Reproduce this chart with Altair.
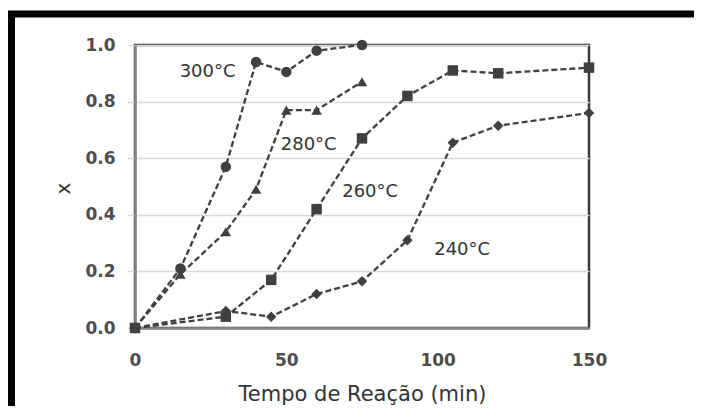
import altair as alt
import pandas as pd

# Reaction time (min) and conversion X for each temperature
t300 = [0, 15, 30, 40, 50, 60, 75]
x300 = [0, 0.21, 0.57, 0.94, 0.905, 0.98, 1.0]
t280 = [0, 15, 30, 40, 50, 60, 75]
x280 = [0, 0.19, 0.34, 0.49, 0.77, 0.77, 0.87]
t240 = [0, 30, 45, 60, 75, 90, 105, 120, 150]
x240 = [0, 0.06, 0.04, 0.12, 0.165, 0.31, 0.655, 0.715, 0.76]
t260 = [0, 30, 45, 60, 75, 90, 105, 120, 150]
x260 = [0, 0.04, 0.17, 0.42, 0.67, 0.82, 0.91, 0.90, 0.92]

series_names = ["300", "280", "240", "260"]
series_shapes = ["circle", "triangle-up", "diamond", "square"]
series_sizes = [110, 110, 70, 144]

label_text = ["300°C", "280°C", "260°C", "240°C"]
label_t = [24, 57.4, 77.7, 108.1]
label_x = [0.906, 0.647, 0.479, 0.276]

x_ticks = [0, 50, 100, 150]
y_ticks = [0, 0.2, 0.4, 0.6, 0.8, 1.0]

rows = []
for name, ts, xs in zip(series_names, [t300, t280, t240, t260], [x300, x280, x240, x260]):
    for i, (t, x) in enumerate(zip(ts, xs)):
        rows.append({"serie": name, "t": t, "X": x, "i": i})
df = pd.DataFrame(rows)
labels_df = pd.DataFrame({"label": label_text, "t": label_t, "X": label_x})

GRAY = "#404040"

x_enc = alt.X("t:Q", scale=alt.Scale(domain=[0, 150], nice=False),
              axis=alt.Axis(values=x_ticks, title="Tempo de Reação (min)", grid=False,
                            ticks=False, tickSize=0, labelPadding=24, labelFlush=False,
                            titleY=72, titleBaseline="alphabetic",
                            domainColor="#858585", domainWidth=2.5))
y_enc = alt.Y("X:Q", scale=alt.Scale(domain=[0, 1], nice=False),
              axis=alt.Axis(values=y_ticks, format=".1f", title="x",
                            grid=True, gridColor="#d9d9d9", gridWidth=1.5,
                            ticks=True, tickSize=8, tickColor="#d9d9d9", tickWidth=1.5,
                            labelPadding=12, domainColor="#858585", domainWidth=2.5,
                            titleX=-62, titleY=143, titleBaseline="bottom", titleAngle=270,
                            titleFont="DejaVu Sans", titleFontSize=20, titleFontWeight="normal",
                            titleColor="#333333"))

shape_scale = alt.Scale(domain=series_names, range=series_shapes)
size_scale = alt.Scale(domain=series_names, range=series_sizes)

lines = alt.Chart(df).mark_line(color=GRAY, strokeWidth=2.3, strokeDash=[6, 3]).encode(
    x=x_enc, y=y_enc, detail="serie:N", order="i:Q")

points = alt.Chart(df).mark_point(filled=True, color=GRAY, opacity=1).encode(
    x="t:Q", y="X:Q",
    shape=alt.Shape("serie:N", scale=shape_scale, legend=None),
    size=alt.Size("serie:N", scale=size_scale, legend=None))

texts = alt.Chart(labels_df).mark_text(font="DejaVu Sans", fontSize=18, color="#333333",
                                       align="center", baseline="middle").encode(
    x="t:Q", y="X:Q", text="label:N")

frame = alt.Chart(pd.DataFrame({"a": [0]})).mark_rect(
    fillOpacity=0, stroke="black", strokeWidth=7).encode(
    x=alt.value(-123.5), x2=alt.value(570), y=alt.value(-31), y2=alt.value(378))

chart = alt.layer(frame, lines, points, texts).properties(
    width=454, height=283,
    padding={"left": 127, "top": 37, "right": 105, "bottom": 78},
    autosize=alt.AutoSizeParams(type="none"),
    background="white",
).configure_view(stroke="#3a3a3a", strokeWidth=2.5).configure_axis(
    labelFont="DejaVu Sans", labelFontSize=17, labelFontWeight="bold", labelColor="#4d4d4d",
    titleFont="DejaVu Sans", titleFontSize=21, titleFontWeight="normal", titleColor="#333333",
)

chart.save("out.html", embed_options={"renderer": "svg", "actions": False})
